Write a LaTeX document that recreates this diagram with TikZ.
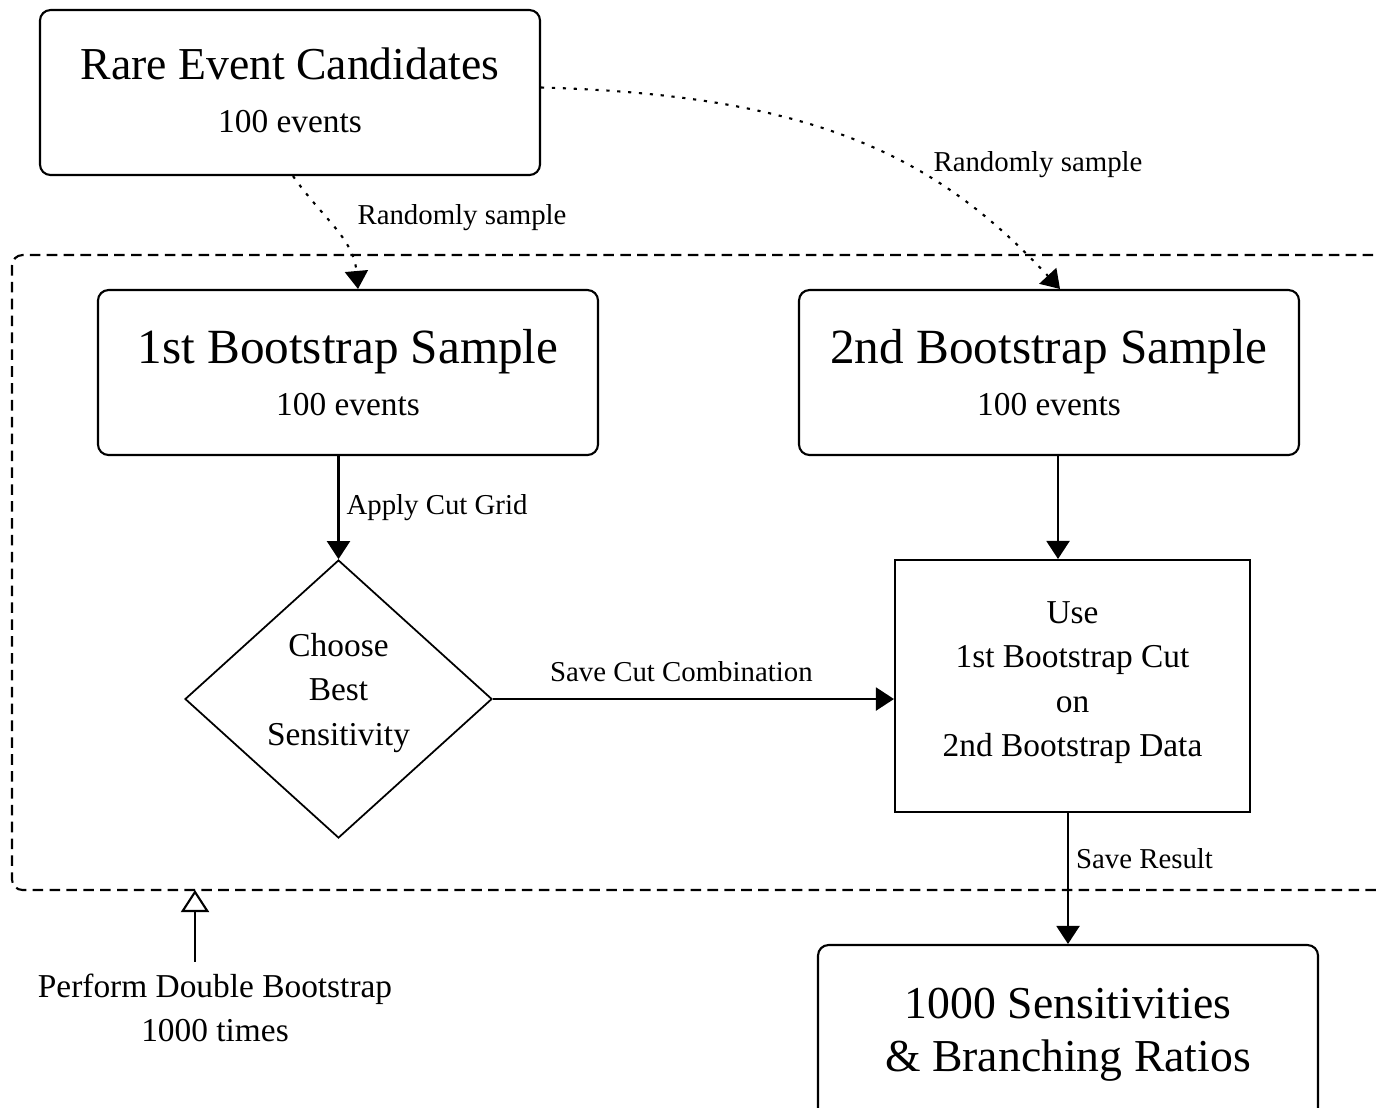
\documentclass[tikz,border=0pt]{standalone}
\usepackage{fontspec}
\setmainfont{Liberation Serif}
\usetikzlibrary{arrows.meta,shapes.geometric}

\newcommand{\bigline}[2]{{\fontsize{#1}{15}\selectfont #2}}
% extra depth on a last line lifts the text block in its node
\newcommand{\lift}[1]{\rule[-#1]{0pt}{#1}}

\tikzset{
	samplebox/.style={draw, rounded corners=3pt, line width=0.6pt, minimum width=5cm, minimum height=1.65cm, align=center, inner sep=0pt, font=\fontsize{9.5}{15}\selectfont},
	process/.style={draw, line width=0.6pt, minimum width=3.55cm, minimum height=2.52cm, align=center, inner sep=0pt, font=\fontsize{9.5}{12.6}\selectfont},
	decision/.style={draw, diamond, line width=0.5pt, minimum width=3.07cm, minimum height=2.78cm, align=center, inner sep=0pt, font=\fontsize{9.5}{12.6}\selectfont},
	flow/.style={line width=0.6pt, -{Triangle[length=1.8mm, width=2.3mm]}},
	pick/.style={flow, dash pattern=on 0.9pt off 2.2pt},
	frame/.style={line width=0.6pt, dash pattern=on 3pt off 1.8pt, rounded corners=3pt},
	tag/.style={font=\fontsize{8.2}{10}\selectfont, inner sep=2pt},
}

\begin{document}
\begin{tikzpicture}
			%%%%% START %%%%%
			\useasboundingbox (0, 0) rectangle (13.77, -11.07);
			
			% repeated block
			\draw[frame] (13.9, -2.55) -- (0.12, -2.55) -- (0.12, -8.90) -- (13.9, -8.90);
			\coordinate (loopfoot) at (1.95, -8.90);
			
			\node[samplebox] (rare) at (2.90, -0.925) {\bigline{13}{Rare Event Candidates}\\100 events\lift{1.5pt}};
			
			\node[samplebox] (boot1) at (3.48, -3.725) {\bigline{14}{1st Bootstrap Sample}\\100 events};
			\node[samplebox] (boot2) at (10.49, -3.725) {\bigline{14}{2nd Bootstrap Sample}\\100 events};
			
			\node[decision] (choose) at (3.385, -6.99) {Choose\\Best\\Sensitivity\lift{5.5pt}};
			\node[process] (use) at (10.725, -6.86) {Use\\1st Bootstrap Cut\\on\\2nd Bootstrap Data\lift{4pt}};
			
			\node[samplebox, minimum height=1.8cm, font=\fontsize{13}{15}\selectfont] (result) at (10.68, -10.35) {1000 Sensitivities\\\& Branching Ratios};
			
			\node[align=center, font=\fontsize{9.5}{12.6}\selectfont] (repeat) at (2.15, -10.08) {Perform Double Bootstrap\\1000 times};
			
			% sampling
			\draw[pick] ([xshift=0.3mm]rare.south) to[out=-55, in=95] ([xshift=1mm]boot1.north);
			\node[tag] (pickA) at (4.62, -2.18) {Randomly sample};
			\draw[pick] ([yshift=0.5mm]rare.east) .. controls (8.2, -0.95) and (9.4, -1.6) .. ([xshift=1.1mm]boot2.north);
			\node[tag] (pickB) at (10.38, -1.65) {Randomly sample};
			
			% flow through the double bootstrap
			\draw[flow] (boot1.south -| choose.north) -- node[tag, right] {Apply Cut Grid} (choose.north);
			\draw[flow] ([xshift=0.9mm]boot2.south) -- ([xshift=0.9mm]boot2.south |- use.north);
			\draw[flow] (choose.east) -- node[tag, above, pos=0.47, yshift=2.5pt] {Save Cut Combination} (choose.east -| use.west);
			\draw[flow] ([xshift=-0.45mm]use.south) -- node[tag, right, pos=0.35] {Save Result} ([xshift=-0.45mm]use.south |- result.north);
			
			\draw[line width=0.6pt, -{Triangle[open, length=2.2mm, width=2.8mm]}] (repeat.north -| loopfoot) -- (loopfoot);
			
			%%%%% END %%%%%
		\end{tikzpicture}
\end{document}
